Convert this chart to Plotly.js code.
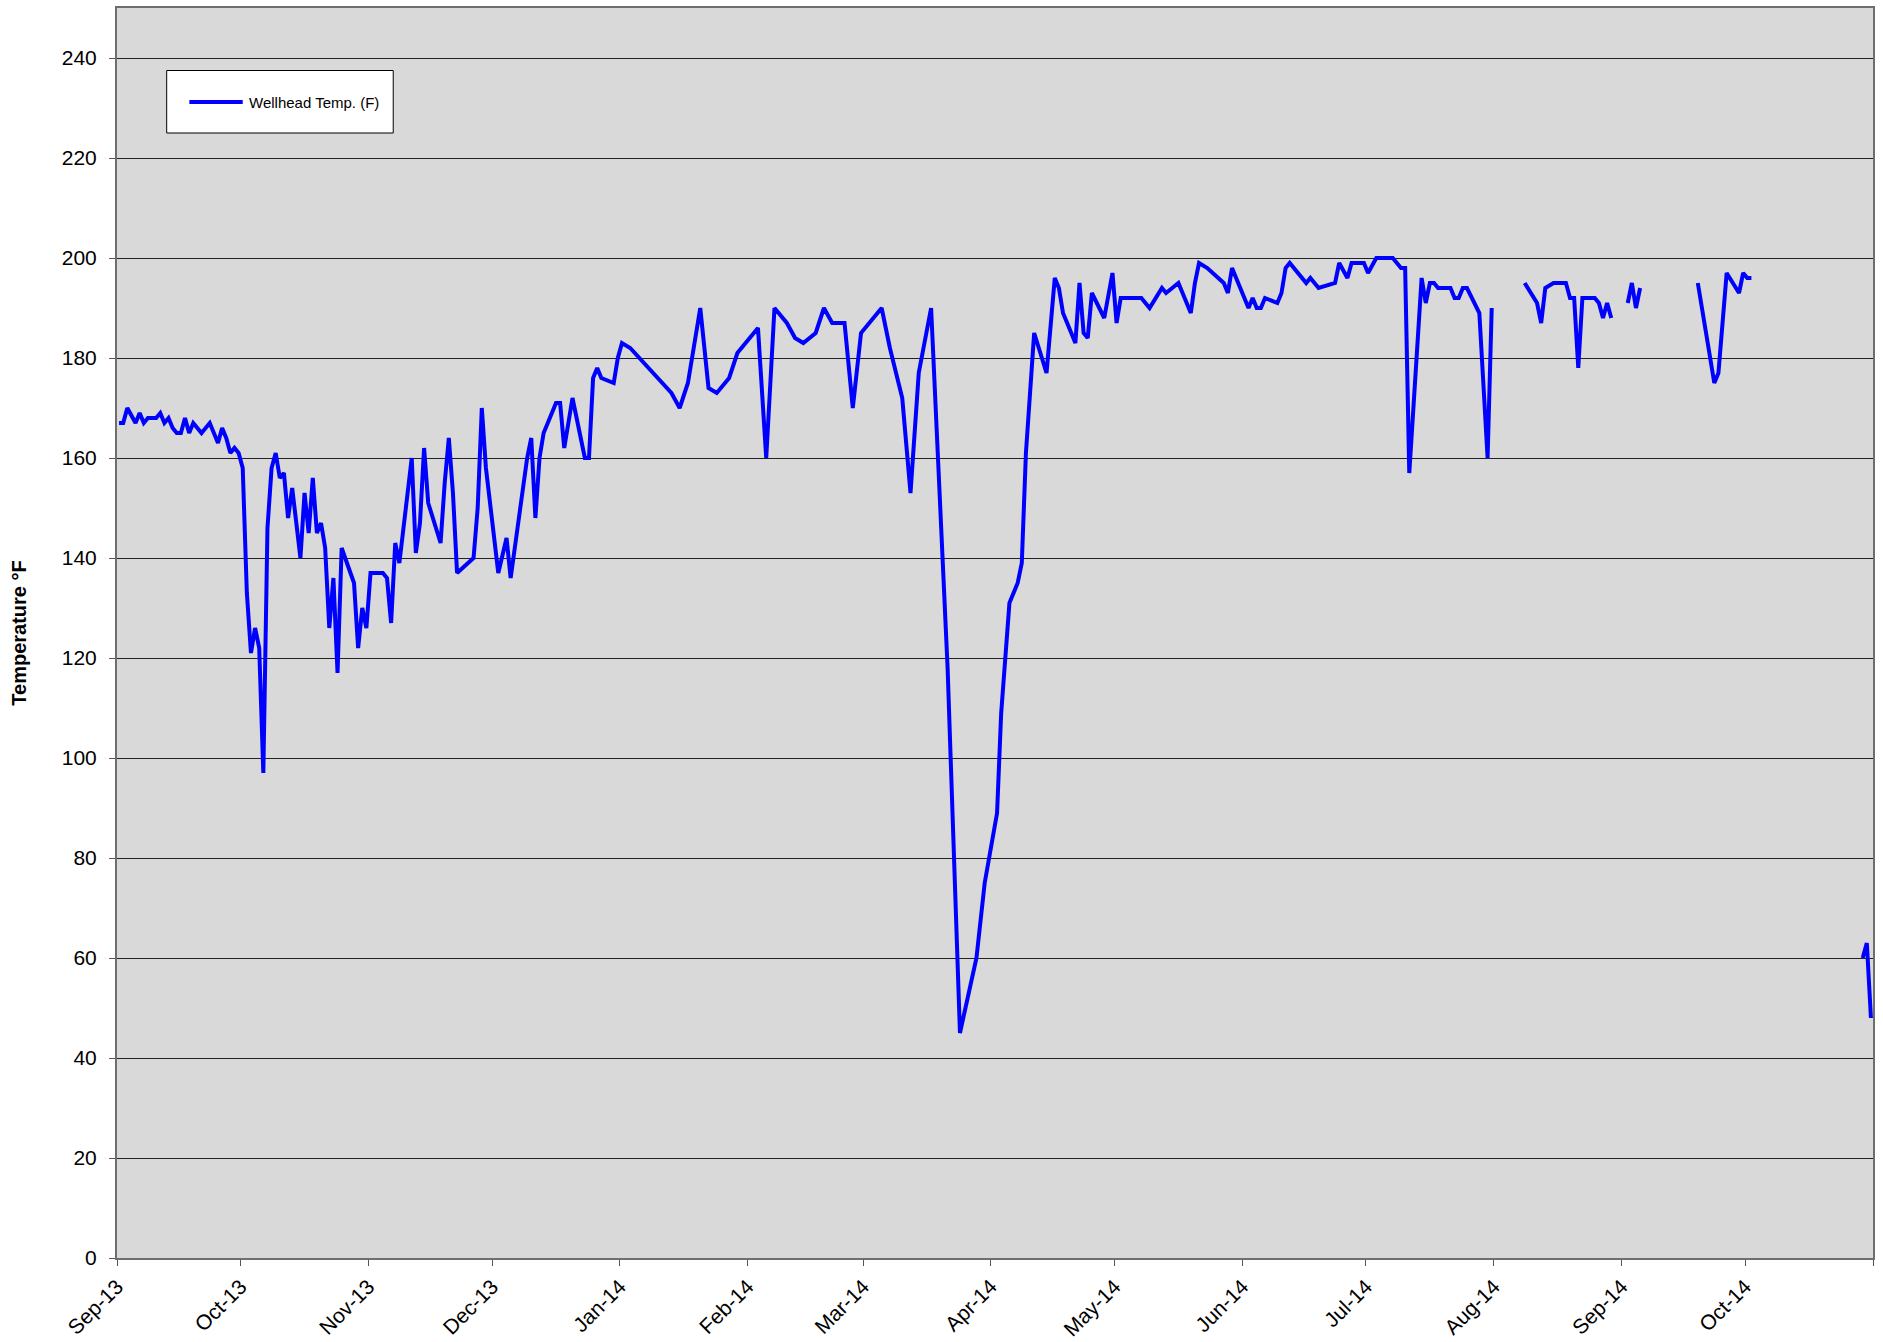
<!DOCTYPE html>
<html>
<head>
<meta charset="utf-8">
<script src="https://cdn.plot.ly/plotly-3.0.1.min.js"></script>
<style>
  html, body { margin: 0; padding: 0; background: #ffffff; }
  #chart { width: 1883px; height: 1342px; }
</style>
</head>
<body>
<div id="chart"></div>
<script>
const seriesName = 'Wellhead Temp. (F)';
const yAxisTitle = 'Temperature °F';

const dates = [
  '2013-09-01','2013-09-02','2013-09-03','2013-09-05','2013-09-06','2013-09-07','2013-09-08','2013-09-10',
  '2013-09-11','2013-09-12','2013-09-13','2013-09-14','2013-09-15','2013-09-16','2013-09-17','2013-09-18',
  '2013-09-19','2013-09-21','2013-09-23','2013-09-25','2013-09-26','2013-09-27','2013-09-28','2013-09-29',
  '2013-09-30','2013-10-01','2013-10-02','2013-10-03','2013-10-04','2013-10-05','2013-10-06','2013-10-07',
  '2013-10-08','2013-10-09','2013-10-10','2013-10-11','2013-10-12','2013-10-13','2013-10-15','2013-10-16',
  '2013-10-17','2013-10-18','2013-10-19','2013-10-20','2013-10-21','2013-10-22','2013-10-23','2013-10-24',
  '2013-10-25','2013-10-28','2013-10-29','2013-10-30','2013-10-31','2013-11-01','2013-11-04','2013-11-05',
  '2013-11-06','2013-11-07','2013-11-08','2013-11-11','2013-11-12','2013-11-13','2013-11-14','2013-11-15',
  '2013-11-18','2013-11-19','2013-11-20','2013-11-21','2013-11-22','2013-11-26','2013-11-27','2013-11-28',
  '2013-11-29','2013-12-02','2013-12-04','2013-12-05','2013-12-07','2013-12-09','2013-12-10','2013-12-11',
  '2013-12-12','2013-12-13','2013-12-16','2013-12-17','2013-12-18','2013-12-20','2013-12-23','2013-12-24',
  '2013-12-25','2013-12-26','2013-12-27','2013-12-30','2013-12-31','2014-01-01','2014-01-03','2014-01-13',
  '2014-01-15','2014-01-17','2014-01-20','2014-01-22','2014-01-24','2014-01-27','2014-01-29','2014-02-03',
  '2014-02-05','2014-02-07','2014-02-10','2014-02-12','2014-02-14','2014-02-17','2014-02-19','2014-02-21',
  '2014-02-24','2014-02-26','2014-02-28','2014-03-05','2014-03-07','2014-03-10','2014-03-12','2014-03-14',
  '2014-03-17','2014-03-21','2014-03-24','2014-03-28','2014-03-30','2014-04-02','2014-04-03','2014-04-05',
  '2014-04-07','2014-04-08','2014-04-09','2014-04-11','2014-04-14','2014-04-16','2014-04-17','2014-04-18',
  '2014-04-21','2014-04-22','2014-04-23','2014-04-24','2014-04-25','2014-04-28','2014-04-30','2014-05-01',
  '2014-05-02','2014-05-07','2014-05-09','2014-05-12','2014-05-13','2014-05-16','2014-05-19','2014-05-20',
  '2014-05-21','2014-05-23','2014-05-27','2014-05-28','2014-05-29','2014-05-31','2014-06-02','2014-06-03',
  '2014-06-04','2014-06-05','2014-06-06','2014-06-09','2014-06-10','2014-06-11','2014-06-12','2014-06-16',
  '2014-06-17','2014-06-19','2014-06-23','2014-06-24','2014-06-26','2014-06-27','2014-06-30','2014-07-01',
  '2014-07-03','2014-07-07','2014-07-09','2014-07-10','2014-07-11','2014-07-14','2014-07-15','2014-07-16',
  '2014-07-17','2014-07-18','2014-07-21','2014-07-22','2014-07-23','2014-07-24','2014-07-25','2014-07-28',
  '2014-07-30','2014-07-31','2014-08-04','2014-08-08','2014-08-11','2014-08-12','2014-08-13','2014-08-15',
  '2014-08-18','2014-08-19','2014-08-20','2014-08-21','2014-08-22','2014-08-25','2014-08-26','2014-08-27',
  '2014-08-28','2014-08-29','2014-08-31','2014-09-02','2014-09-03','2014-09-04','2014-09-05','2014-09-12',
  '2014-09-19','2014-09-23','2014-09-24','2014-09-26','2014-09-29','2014-09-30','2014-10-01','2014-10-02',
  '2014-10-15','2014-10-29','2014-10-30','2014-10-31'
];

const temps = [
  167,167,170,167,169,167,168,168,
  169,167,168,166,165,165,168,165,
  167,165,167,163,166,164,161,162,
  161,158,133,121,126,122,97,146,
  158,161,156,157,148,154,140,153,
  145,156,145,147,142,126,136,117,
  142,135,122,130,126,137,137,136,
  127,143,139,160,141,147,162,151,
  143,155,164,153,137,140,150,170,
  158,137,144,136,148,160,164,148,
  160,165,171,171,162,172,160,160,
  176,178,176,175,180,183,182,173,
  170,175,190,174,173,176,181,186,
  160,190,187,184,183,185,190,187,
  187,170,185,190,182,172,153,177,
  190,118,45,60,75,89,109,131,
  135,139,161,185,177,196,194,189,
  183,195,185,184,193,188,197,187,
  192,192,190,194,193,195,189,195,
  199,198,195,193,198,194,190,192,
  190,190,192,191,193,198,199,195,
  196,194,195,199,196,199,199,197,
  200,200,198,198,157,196,191,195,
  195,194,194,192,192,194,194,189,
  160,190,null,195,191,187,194,195,
  195,192,192,178,192,192,191,188,
  191,188,null,191,195,190,194,null,
  195,175,177,197,193,197,196,196,
  null,60,63,48
];

const tickDates = [
  '2013-09-01','2013-10-01','2013-11-01','2013-12-01','2014-01-01','2014-02-01','2014-03-01','2014-04-01',
  '2014-05-01','2014-06-01','2014-07-01','2014-08-01','2014-09-01','2014-10-01','2014-11-01'
];
const tickLabels = [
  'Sep-13','Oct-13','Nov-13','Dec-13','Jan-14','Feb-14','Mar-14','Apr-14',
  'May-14','Jun-14','Jul-14','Aug-14','Sep-14','Oct-14',''
];

const FONT = 'Liberation Sans, Arial, Helvetica, sans-serif';

const trace = {
  type: 'scatter',
  mode: 'lines',
  name: seriesName,
  x: dates.map(d => d + ' 12:00'),
  y: temps,
  connectgaps: false,
  line: { color: '#0000FF', width: 4 },
  showlegend: false,
  hoverinfo: 'x+y'
};

const layout = {
  width: 1883,
  height: 1342,
  margin: { l: 117, r: 10, t: 8, b: 84 },
  paper_bgcolor: '#ffffff',
  plot_bgcolor: '#D9D9D9',
  font: { family: FONT, size: 21, color: '#000000' },
  showlegend: false,
  xaxis: {
    type: 'date',
    range: ['2013-09-01', '2014-11-01'],
    tickmode: 'array',
    tickvals: tickDates,
    ticktext: tickLabels,
    tickangle: -45,
    ticks: 'outside',
    ticklen: 6,
    tickwidth: 1,
    tickcolor: '#555555',
    showgrid: false,
    zeroline: false,
    showline: true,
    linecolor: '#6e6e6e',
    linewidth: 2,
    mirror: true,
    tickfont: { family: FONT, size: 21, color: '#000000' }
  },
  yaxis: {
    range: [0, 250],
    tickmode: 'linear',
    tick0: 0,
    dtick: 20,
    ticks: 'outside',
    ticklen: 6,
    tickwidth: 1,
    tickcolor: '#555555',
    showgrid: true,
    gridcolor: '#222222',
    gridwidth: 1,
    zeroline: false,
    showline: true,
    linecolor: '#6e6e6e',
    linewidth: 2,
    mirror: true,
    ticklabelstandoff: 8,
    tickfont: { family: FONT, size: 21, color: '#000000' },
    title: {
      text: yAxisTitle,
      standoff: 30,
      font: { family: FONT, size: 20, color: '#000000', weight: 'bold' }
    }
  },
  shapes: [
    {
      type: 'rect', xref: 'paper', yref: 'y',
      x0: 0.0283, x1: 0.1573, y0: 225.0, y1: 237.5,
      line: { color: '#000000', width: 1 },
      fillcolor: '#ffffff',
      layer: 'above'
    },
    {
      type: 'line', xref: 'paper', yref: 'y',
      x0: 0.0412, x1: 0.0716, y0: 231.2, y1: 231.2,
      line: { color: '#0000FF', width: 4 },
      layer: 'above'
    }
  ],
  annotations: [
    {
      xref: 'paper', yref: 'y',
      x: 0.0742, y: 231.2,
      xanchor: 'left', yanchor: 'middle',
      text: seriesName,
      showarrow: false,
      font: { family: FONT, size: 15, color: '#000000' }
    }
  ]
};

Plotly.newPlot('chart', [trace], layout, { displayModeBar: false, staticPlot: true });
</script>
</body>
</html>
